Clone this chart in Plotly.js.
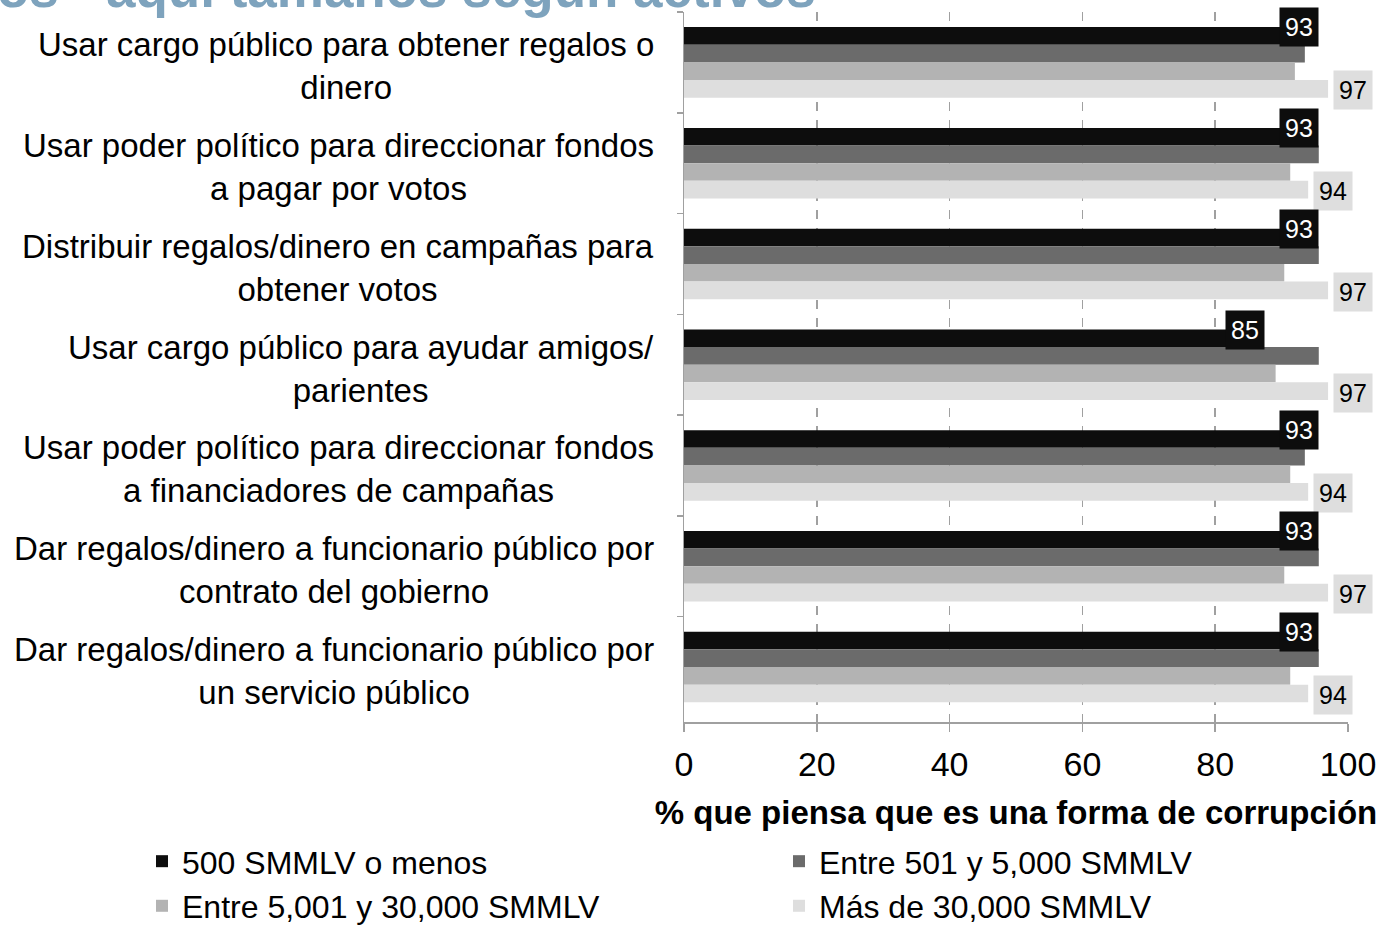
<!DOCTYPE html>
<html>
<head>
<meta charset="utf-8">
<script src="https://cdn.plot.ly/plotly-3.0.1.min.js"></script>
<style>html,body{margin:0;padding:0;background:#fff;}#chart{width:1389px;height:925px;}</style>
</head>
<body>
<div id="chart"></div>
<script>
const categories = [
  "Usar cargo público para obtener regalos o<br>dinero",
  "Usar poder político para direccionar fondos<br>a pagar por votos",
  "Distribuir regalos/dinero en campañas para<br>obtener votos",
  "Usar cargo público para ayudar amigos/<br>parientes",
  "Usar poder político para direccionar fondos<br>a financiadores de campañas",
  "Dar regalos/dinero a funcionario público por<br>contrato del gobierno",
  "Dar regalos/dinero a funcionario público por<br>un servicio público"
];
const seriesNames = ["500 SMMLV o menos", "Entre 501 y 5,000 SMMLV", "Entre 5,001 y 30,000 SMMLV", "Más de 30,000 SMMLV"];
const s500 = [93, 93, 93, 85, 93, 93, 93];
const s501 = [93.5, 95.6, 95.6, 95.6, 93.5, 95.6, 95.6];
const s5001 = [92, 91.3, 90.4, 89.1, 91.3, 90.4, 91.3];
const s30000 = [97, 94, 97, 97, 94, 97, 94];
const tickVals = [0, 20, 40, 60, 80, 100];
const titleText = "os - aquí tamaños según activos";
const xTitle = "% que piensa que es una forma de corrupción";

const colors = ["#0d0d0d", "#6b6b6b", "#b3b3b3", "#dedede"];
const allSeries = [s500, s501, s5001, s30000];
const legendOf = ["legend", "legend2", "legend", "legend2"];

const traces = allSeries.map((vals, i) => ({
  type: "bar",
  orientation: "h",
  name: seriesNames[i],
  x: vals,
  y: categories,
  marker: {color: colors[i]},
  legend: legendOf[i],
  hoverinfo: "x"
}));

const FONT = "Liberation Sans, Arial, sans-serif";
const annotations = [];
categories.forEach((c, j) => {
  annotations.push({
    x: s500[j], y: c, xref: "x", yref: "y",
    text: String(Math.round(s500[j])),
    showarrow: false, xanchor: "center", yanchor: "middle",
    yshift: 35, xshift: -3,
    bgcolor: "#0d0d0d", borderpad: 5,
    font: {family: FONT, size: 25, color: "#ffffff"}
  });
  annotations.push({
    x: s30000[j], y: c, xref: "x", yref: "y",
    text: String(Math.round(s30000[j])),
    showarrow: false, xanchor: "left", yanchor: "middle",
    yshift: -28, xshift: 5,
    bgcolor: "#dedede", borderpad: 5,
    font: {family: FONT, size: 25, color: "#000000"}
  });
  annotations.push({
    x: (655 - 684) / 664, y: c, xref: "paper", yref: "y",
    text: c, showarrow: false, xanchor: "right", yanchor: "middle",
    align: "center", yshift: -4, borderpad: 0,
    font: {family: FONT, size: 33, color: "#000000"}
  });
});
annotations.push({
  xref: "paper", yref: "paper", x: (818 - 684) / 664, y: 1 + (12 - 20) / 710,
  xanchor: "right", yanchor: "bottom",
  text: "<b>" + titleText + "</b>", showarrow: false,
  font: {family: FONT, size: 53, color: "#7ea3bd"}
});

const legendBase = {
  orientation: "v", xref: "container", yref: "container",
  y: 0.0985, xanchor: "left", yanchor: "top",
  traceorder: "normal", tracegroupgap: 0,
  bgcolor: "rgba(0,0,0,0)",
  font: {family: FONT, size: 32, color: "#000"}
};

const layout = {
  width: 1389, height: 925,
  margin: {l: 684, r: 41, t: 12, b: 203, autoexpand: false},
  paper_bgcolor: "#ffffff", plot_bgcolor: "#ffffff",
  barmode: "group", bargap: 0.3, bargroupgap: 0,
  font: {family: FONT, color: "#000000"},
  showlegend: true,
  legend: Object.assign({}, legendBase, {x: 142 / 1389}),
  legend2: Object.assign({}, legendBase, {x: 779 / 1389}),
  xaxis: {
    range: [0, 100], tickvals: tickVals, ticktext: tickVals.map(String),
    showline: true, linecolor: "#a0a0a0", linewidth: 1.5,
    ticks: "outside", ticklen: 8, tickcolor: "#a0a0a0", tickwidth: 1.5,
    showgrid: true, gridcolor: "#a0a0a0", griddash: "dash", gridwidth: 1.5,
    zeroline: false,
    tickfont: {family: FONT, size: 34, color: "#000"},
    ticklabelstandoff: 4,
    title: {text: "<b>" + xTitle + "</b>", font: {family: FONT, size: 33, color: "#000"}, standoff: 18},
    automargin: false,
    fixedrange: true
  },
  yaxis: {
    type: "category", autorange: "reversed",
    showline: true, linecolor: "#a0a0a0", linewidth: 1.5,
    ticks: "outside", ticklen: 6, tickcolor: "#a0a0a0", tickwidth: 1.5,
    tickson: "boundaries", showgrid: false,
    showticklabels: false,
    automargin: false,
    fixedrange: true
  },
  annotations: annotations
};

Plotly.newPlot("chart", traces, layout, {displayModeBar: false, staticPlot: true});
</script>
</body>
</html>
